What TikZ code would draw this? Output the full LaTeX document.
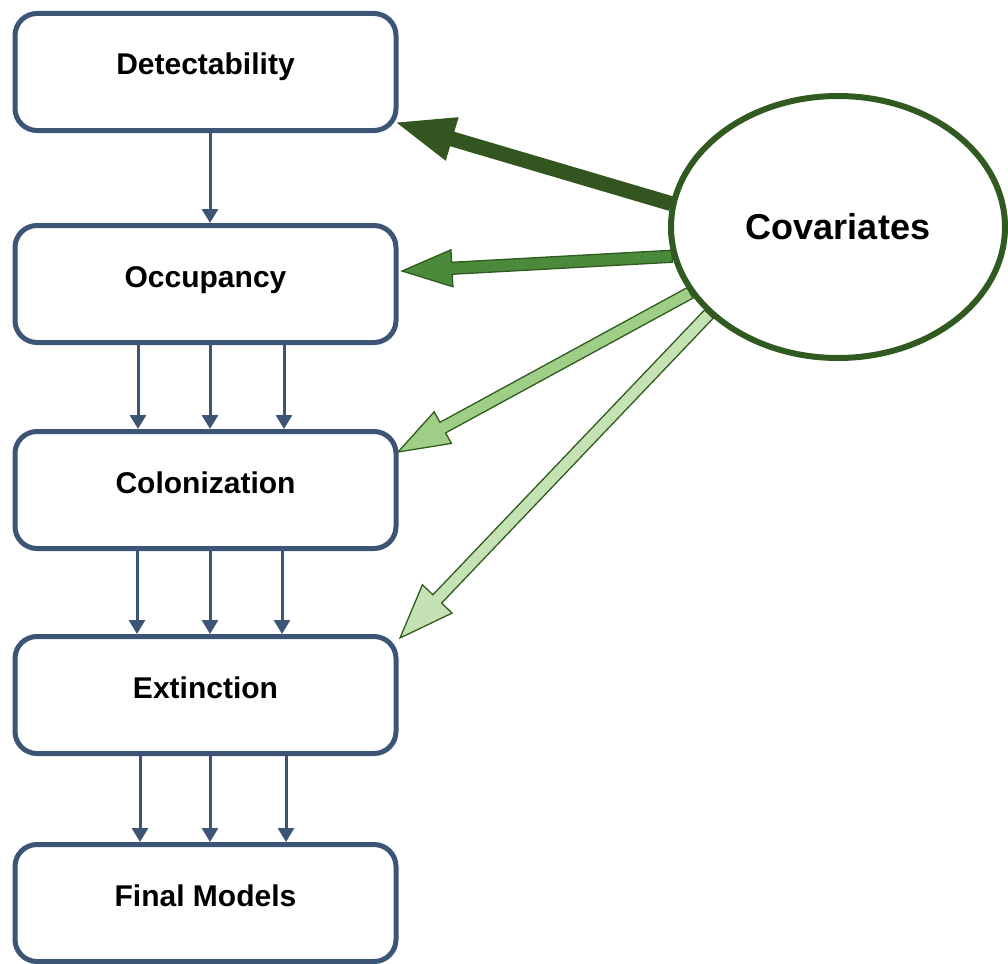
\documentclass[tikz,border=0pt]{standalone}
\usepackage{fontspec}
\setmainfont{Liberation Sans}
\usetikzlibrary{shapes.geometric,arrows.meta,calc,backgrounds}
\definecolor{boxblue}{HTML}{3C5475}
\definecolor{dkgreen}{HTML}{315A20}
\definecolor{gA}{HTML}{33551F}
\definecolor{gB}{HTML}{4A8A3A}
\definecolor{gC}{HTML}{9FCF86}
\definecolor{gD}{HTML}{C5E2B4}
% block arrow: start, tip, half shaft, half head width, head length, style
\newcommand\blockarrow[6]{%
  \coordinate (ba) at ($(#2)!#5!(#1)$);
  \path[#6] ($(#1)!#3!90:(#2)$) -- ($(ba)!#3!90:(#2)$) -- ($(ba)!#4!90:(#2)$)
    -- (#2) -- ($(ba)!#4!-90:(#2)$) -- ($(ba)!#3!-90:(#2)$)
    -- ($(#1)!#3!-90:(#2)$) -- cycle;
}
\tikzset{
  stage/.style={draw=boxblue, line width=5pt, rounded corners=22pt, fill=white,
    minimum width=381pt, minimum height=117pt, inner sep=0pt,
    text height=22pt, text depth=16pt,
    font=\fontsize{30}{34}\selectfont\bfseries},
  flow/.style={draw=boxblue, line width=3pt, -{Triangle[width=16pt,length=14pt]}},
  barA/.style={fill=gA, draw=gA, line width=1pt, line join=miter},
  barB/.style={fill=gB, draw=dkgreen, line width=1.3pt},
  barC/.style={fill=gC, draw=dkgreen, line width=1.3pt},
  barD/.style={fill=gD, draw=dkgreen, line width=1.3pt},
}
\begin{document}
\begin{tikzpicture}[x=1pt,y=-1pt]
\useasboundingbox (0,0) rectangle (1008,963);
\node[stage] (det) at (205.5,72) {Detectability};
\node[stage] (occ) at (205.5,284) {Occupancy};
\node[stage] (col) at (205.5,490) {Colonization};
\node[stage] (ext) at (205.5,695) {Extinction};
\node[stage] (fin) at (205.5,903) {Final Models};
\node[ellipse, draw=dkgreen, line width=6pt, fill=white, minimum width=334pt,
  minimum height=262pt, inner sep=0pt, font=\fontsize{36}{40}\selectfont\bfseries]
  (cov) at (838,227) {Covariates};
% flows between stages
\draw[flow] ($(det.south)+(4.5,0)$) -- ($(occ.north)+(4.5,0)$);
\foreach \dx in {-67.5,4.5,78.5}
  \draw[flow] ($(occ.south)+(\dx,0)$) -- ($(col.north)+(\dx,0)$);
\foreach \dx in {-68.5,4.5,76.5}
  \draw[flow] ($(col.south)+(\dx,0)$) -- ($(ext.north)+(\dx,0)$);
\foreach \dx in {-65.5,4.5,80.5}
  \draw[flow] ($(ext.south)+(\dx,0)$) -- ($(fin.north)+(\dx,0)$);
% covariate arrows
\coordinate (t1) at (398,123);
\coordinate (t2) at (402,271);
\coordinate (t3) at (398,452);
\coordinate (t4) at (400,638);
\begin{pgfonlayer}{background}
\blockarrow{cov.172}{t1}{7pt}{22pt}{56pt}{barA}
\blockarrow{cov.190}{t2}{6pt}{18.5pt}{50pt}{barB}
\blockarrow{cov.204.5}{t3}{6pt}{18pt}{51pt}{barC}
\blockarrow{cov.214.5}{t4}{6pt}{20.5pt}{54pt}{barD}
\end{pgfonlayer}
\end{tikzpicture}
\end{document}
